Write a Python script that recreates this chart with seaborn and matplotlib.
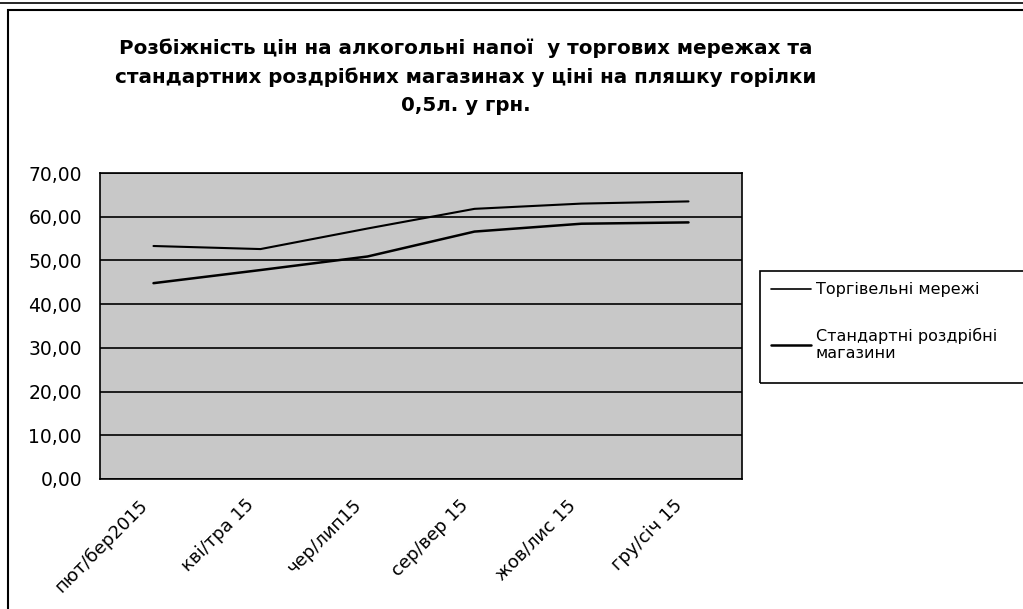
import pandas as pd
import seaborn as sns
import matplotlib.pyplot as plt
from matplotlib.patches import Rectangle
from matplotlib.transforms import ScaledTranslation, blended_transform_factory
from matplotlib.ticker import FuncFormatter, FixedLocator

months = ['пют/бер2015', 'кві/тра 15', 'чер/лип15', 'сер/вер 15', 'жов/лис 15', 'гру/січ 15']
chains = [53.3, 52.6, 57.3, 61.8, 63.0, 63.5]
shops = [44.8, 47.8, 50.9, 56.6, 58.4, 58.7]
series_names = ['Торгівельні мережі', 'Стандартні роздрібні\nмагазини']


def main():
    sns.set_style('white')
    plt.rcParams['font.family'] = ['DejaVu Sans']
    plt.rcParams['text.color'] = 'black'
    plt.rcParams['xtick.color'] = 'black'
    plt.rcParams['ytick.color'] = 'black'

    df = pd.DataFrame({
        'month': months * 2,
        'price': chains + shops,
        'series': [series_names[0]] * len(months) + [series_names[1]] * len(months),
    })

    fig = plt.figure(figsize=(10.23, 6.09), dpi=100)
    ax = fig.add_axes([100 / 1023, 1 - 479 / 609, 642 / 1023, 306 / 609])

    sns.lineplot(data=df, x='month', y='price', hue='series', style='series',
                 palette=['black', 'black'], dashes=False, size='series',
                 sizes=[1.5, 1.8], sort=False, ax=ax, legend=False)

    ax.set_facecolor('#c8c8c8')
    ax.set_xlim(-0.5, len(months) - 0.5)
    ax.set_ylim(0, 70)
    ax.set_yticks(range(0, 71, 10))
    ax.yaxis.set_major_formatter(FuncFormatter(lambda v, p: f'{v:.2f}'.replace('.', ',')))
    ax.grid(axis='y', color='black', lw=1.2)
    ax.set_axisbelow(True)

    # category labels sit between the boundary ticks, as in Excel
    ax.xaxis.set_major_locator(FixedLocator([i - 0.5 for i in range(len(months) + 1)]))
    ax.set_xticklabels([])
    trans = blended_transform_factory(ax.transData, ax.transAxes) + \
        ScaledTranslation(-0.15, -0.17, fig.dpi_scale_trans)
    for i, m in enumerate(months):
        ax.text(i, 0, m, transform=trans, rotation=45, ha='right', va='top',
                rotation_mode='anchor', fontsize=13)
    ax.tick_params(axis='x', which='major', length=6, width=1, direction='out')
    ax.tick_params(axis='y', length=7, width=1, direction='out', labelsize=13.5, pad=6)
    ax.set_xlabel('')
    ax.set_ylabel('')
    for s in ax.spines.values():
        s.set_color('black')
        s.set_linewidth(1.2)

    fig.text(0.455, 1 - 38 / 609,
             'Розбіжність цін на алкогольні напої  у торгових мережах та\n'
             'стандартних роздрібних магазинах у ціні на пляшку горілки\n0,5л. у грн.',
             ha='center', va='top', fontsize=14.3, fontweight='bold', linespacing=1.63)

    handles = [plt.Line2D([], [], color='black', lw=1.2),
               plt.Line2D([], [], color='black', lw=1.8)]
    fig.legend(handles, series_names, loc='upper left',
               bbox_to_anchor=(760 / 1023, 1 - 271 / 609), fontsize=11.5,
               frameon=False, handlelength=2.5, handletextpad=0.3, labelspacing=1.9,
               borderpad=0.7, borderaxespad=0)
    fig.patches.append(Rectangle((760 / 1023, 1 - 383 / 609), 280 / 1023, 112 / 609,
                                 transform=fig.transFigure, fill=False,
                                 edgecolor='black', lw=1.2))

    fig.patches.append(Rectangle((8 / 1023, -0.05), 1.1, 1 - 10 / 609 + 0.05,
                                 transform=fig.transFigure, fill=False,
                                 edgecolor='black', lw=1.5))
    fig.add_artist(plt.Line2D([0, 1], [1 - 3 / 609, 1 - 3 / 609], color='black', lw=1.2,
                              transform=fig.transFigure))

    fig.savefig('out.png', dpi=100)


if __name__ == '__main__':
    main()
